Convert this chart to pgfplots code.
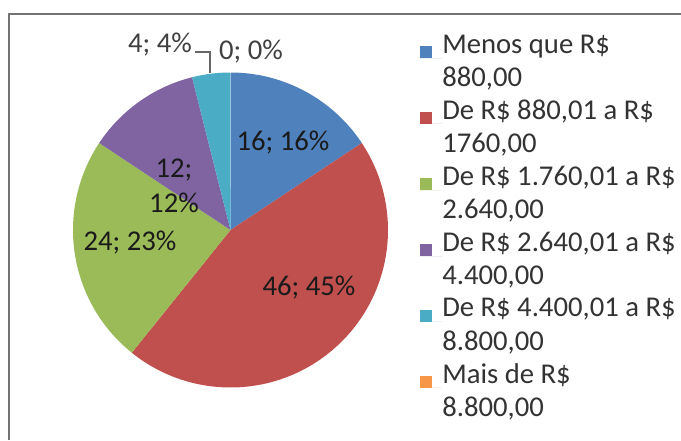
\documentclass[border=0pt]{standalone}
\usepackage{pgfplots}
\pgfplotsset{compat=1.18}
\usepackage{fontspec}
\setmainfont{Carlito}

\definecolor{sA}{HTML}{4F81BD}
\definecolor{sB}{HTML}{C0504D}
\definecolor{sC}{HTML}{9BBB59}
\definecolor{sD}{HTML}{8064A2}
\definecolor{sE}{HTML}{4BACC6}
\definecolor{sF}{HTML}{F79646}
\definecolor{lbl}{HTML}{1A1A1A}

\begin{document}
\begin{tikzpicture}
% pie geometry in pixel units of the picture
\pgfmathsetmacro{\cx}{230.5}
\pgfmathsetmacro{\cy}{210}
\pgfmathsetmacro{\rad}{157.5}
% slice values
\def\vA{16}\def\vB{46}\def\vC{24}\def\vD{12}\def\vE{4}\def\vF{0}
\pgfmathsetmacro{\tot}{\vA+\vB+\vC+\vD+\vE+\vF}
\pgfmathsetmacro{\aA}{90}
\pgfmathsetmacro{\aB}{\aA-\vA/\tot*360}
\pgfmathsetmacro{\aC}{\aB-\vB/\tot*360}
\pgfmathsetmacro{\aD}{\aC-\vC/\tot*360}
\pgfmathsetmacro{\aE}{\aD-\vD/\tot*360}
\pgfmathsetmacro{\aF}{\aE-\vE/\tot*360}
\begin{axis}[
    width=510.75pt, height=330pt, scale only axis,
    xmin=0, xmax=681, ymin=0, ymax=440,
    hide axis, clip=false,
    legend image code/.code={
        \fill[#1] (0pt,2.5pt) rectangle (9pt,11.5pt);
        \path (0pt,2.5pt) -- (16.5pt,2.5pt);},
    legend cell align=left,
    legend style={
        at={(axis cs:420,405.5)}, anchor=north west,
        draw=none, fill=none,
        font=\fontsize{21.5}{25}\selectfont,
        text=black!80,
        inner sep=0pt, row sep=8.5pt,
        nodes={align=left, inner sep=0pt},
    },
]
\addplot[fill=sA, draw=none, domain=\aB:\aA, samples=80]
    ({\cx+\rad*cos(x)},{\cy+\rad*sin(x)}) -- (\cx,\cy) -- cycle;
\addlegendentry{Menos que R\$\\880,00}
\addplot[fill=sB, draw=none, domain=\aC:\aB, samples=120]
    ({\cx+\rad*cos(x)},{\cy+\rad*sin(x)}) -- (\cx,\cy) -- cycle;
\addlegendentry{De R\$ 880,01 a R\$\\1760,00}
\addplot[fill=sC, draw=none, domain=\aD:\aC, samples=80]
    ({\cx+\rad*cos(x)},{\cy+\rad*sin(x)}) -- (\cx,\cy) -- cycle;
\addlegendentry{De R\$ 1.760,01 a R\$\\2.640,00}
\addplot[fill=sD, draw=none, domain=\aE:\aD, samples=60]
    ({\cx+\rad*cos(x)},{\cy+\rad*sin(x)}) -- (\cx,\cy) -- cycle;
\addlegendentry{De R\$ 2.640,01 a R\$\\4.400,00}
\addplot[fill=sE, draw=none, domain=\aF:\aE, samples=30]
    ({\cx+\rad*cos(x)},{\cy+\rad*sin(x)}) -- (\cx,\cy) -- cycle;
\addlegendentry{De R\$ 4.400,01 a R\$\\8.800,00}
\addplot[fill=sF, draw=none] coordinates {(230.5,210) (230.5,210)};
\addlegendentry{Mais de R\$\\8.800,00}

% data labels
\begin{scope}[font=\fontsize{21.5}{26}\selectfont, text=lbl]
\node at (axis cs:283,297) {16; 16\%};
\node at (axis cs:309,152) {46; 45\%};
\node at (axis cs:130,197) {24; 23\%};
\node[align=center] at (axis cs:174,254) {12;\\12\%};
\node[text=black!75] at (axis cs:160,395) {4; 4\%};
\node[text=black!75] at (axis cs:251,388) {0; 0\%};
\end{scope}
\draw[black!60, line width=0.8pt] (axis cs:195,388) -- (axis cs:210,388) -- (axis cs:210,367);

% chart frame (right and bottom edges fall outside the picture)
\draw[black!55, line width=1.5pt] (axis cs:8.5,0) -- (axis cs:8.5,425.5) -- (axis cs:681,425.5);
\end{axis}
\pgfresetboundingbox
\path (current axis.south west) rectangle (current axis.north east);
\end{tikzpicture}
\end{document}
